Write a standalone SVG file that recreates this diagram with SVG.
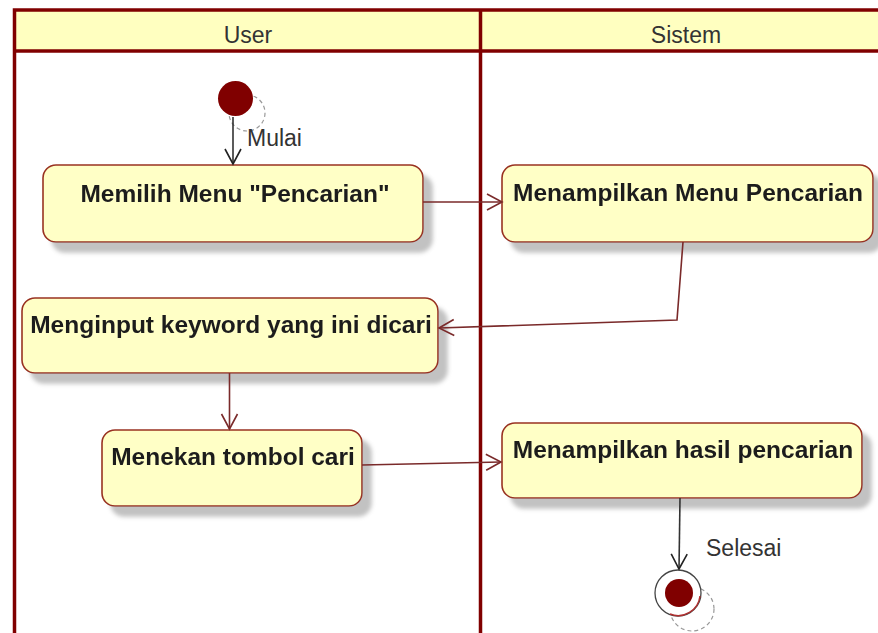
<svg xmlns="http://www.w3.org/2000/svg" width="878" height="633" viewBox="0 0 878 633">
  <style>
    .lane-title { font-family: "Liberation Sans", Arial, sans-serif; font-size: 23px; fill: #333333; text-anchor: middle; }
    .frame { fill: none; stroke: #800000; stroke-width: 3.5; }
    .header { fill: #ffffc0; }
    .act rect { fill: #ffffc6; stroke: #993322; stroke-width: 1.6; }
    .act text { font-family: "Liberation Sans", Arial, sans-serif; font-size: 24.5px; font-weight: bold; fill: #1e1e1e; text-anchor: middle; }
    .flow { fill: none; stroke: #7a2a2a; stroke-width: 1.6; }
    .flow-dark { fill: none; stroke: #333333; stroke-width: 1.6; }
    .label { font-family: "Liberation Sans", Arial, sans-serif; font-size: 23px; fill: #333333; }
    .ghost { fill: none; stroke: #999999; stroke-width: 1.2; stroke-dasharray: 4 3; }
  </style>
  <defs>
    <filter id="shadow" x="-10%" y="-20%" width="130%" height="160%">
      <feGaussianBlur in="SourceAlpha" stdDeviation="2"/>
      <feOffset dx="9" dy="10" result="off"/>
      <feFlood flood-color="#c2c2c2" flood-opacity="1"/>
      <feComposite in2="off" operator="in"/>
      <feMerge>
        <feMergeNode/>
        <feMergeNode in="SourceGraphic"/>
      </feMerge>
    </filter>
    <marker id="open-red" markerUnits="userSpaceOnUse" markerWidth="20" markerHeight="20" refX="16" refY="9" orient="auto">
      <path d="M1,1 L16,9 L1,17" fill="none" stroke="#7a2a2a" stroke-width="1.6"/>
    </marker>
    <marker id="open-dark" markerUnits="userSpaceOnUse" markerWidth="20" markerHeight="20" refX="16" refY="9" orient="auto">
      <path d="M1,1 L16,9 L1,17" fill="none" stroke="#222222" stroke-width="1.6"/>
    </marker>
  </defs>

  <rect width="878" height="633" fill="#ffffff"/>

  <!-- swimlane frame -->
  <g id="lanes">
    <rect class="header" x="14.5" y="10" width="880" height="41"/>
    <rect class="frame" x="14.5" y="10" width="880" height="700"/>
    <line x1="14.5" y1="51" x2="895" y2="51" stroke="#800000" stroke-width="3.5"/>
    <line x1="480.5" y1="10" x2="480.5" y2="633" stroke="#800000" stroke-width="3.5"/>
    <text class="lane-title" x="248" y="43">User</text>
    <text class="lane-title" x="686" y="43">Sistem</text>
  </g>

  <!-- start node -->
  <g id="start">
    <circle class="ghost" cx="247" cy="113" r="18"/>
    <circle cx="235.5" cy="98.5" r="17.5" fill="#800000"/>
  </g>

  <!-- activities -->
  <g id="memilih-menu" class="act" filter="url(#shadow)">
    <rect x="43" y="165" width="380" height="77" rx="13"/>
    <text x="235" y="202">Memilih Menu "Pencarian"</text>
  </g>
  <g id="menampilkan-menu" class="act" filter="url(#shadow)">
    <rect x="502" y="165" width="371" height="77" rx="13"/>
    <text x="688" y="201">Menampilkan Menu Pencarian</text>
  </g>
  <g id="menginput-keyword" class="act" filter="url(#shadow)">
    <rect x="22" y="298" width="416" height="75" rx="13"/>
    <text x="231" y="333">Menginput keyword yang ini dicari</text>
  </g>
  <g id="menekan-tombol" class="act" filter="url(#shadow)">
    <rect x="102" y="430" width="260" height="76" rx="13"/>
    <text x="233" y="465">Menekan tombol cari</text>
  </g>
  <g id="menampilkan-hasil" class="act" filter="url(#shadow)">
    <rect x="502" y="423" width="360" height="75" rx="13"/>
    <text x="683" y="458">Menampilkan hasil pencarian</text>
  </g>

  <!-- end node -->
  <g id="end">
    <circle class="ghost" cx="692" cy="609" r="22"/>
    <circle cx="678" cy="593" r="23" fill="#ffffff" stroke="#444444" stroke-width="1.3"/>
    <path d="M700,596 A22,22 0 0 1 670,614" fill="none" stroke="#b03030" stroke-width="1.5"/>
    <circle cx="679" cy="593" r="14" fill="#800000"/>
  </g>

  <!-- transitions -->
  <g id="connectors">
    <line class="flow-dark" x1="233" y1="117" x2="233" y2="164" marker-end="url(#open-dark)"/>
    <text class="label" x="247" y="146">Mulai</text>
    <line class="flow" x1="423" y1="202" x2="502" y2="202" marker-end="url(#open-red)"/>
    <polyline class="flow" points="683,242 677,320 439,328" marker-end="url(#open-red)"/>
    <line class="flow" x1="229.5" y1="373" x2="229.5" y2="429" marker-end="url(#open-red)"/>
    <line class="flow" x1="362" y1="465" x2="501" y2="462" marker-end="url(#open-red)"/>
    <line class="flow-dark" x1="680" y1="498" x2="679" y2="569" marker-end="url(#open-dark)"/>
    <text class="label" x="706" y="556">Selesai</text>
  </g>
</svg>
